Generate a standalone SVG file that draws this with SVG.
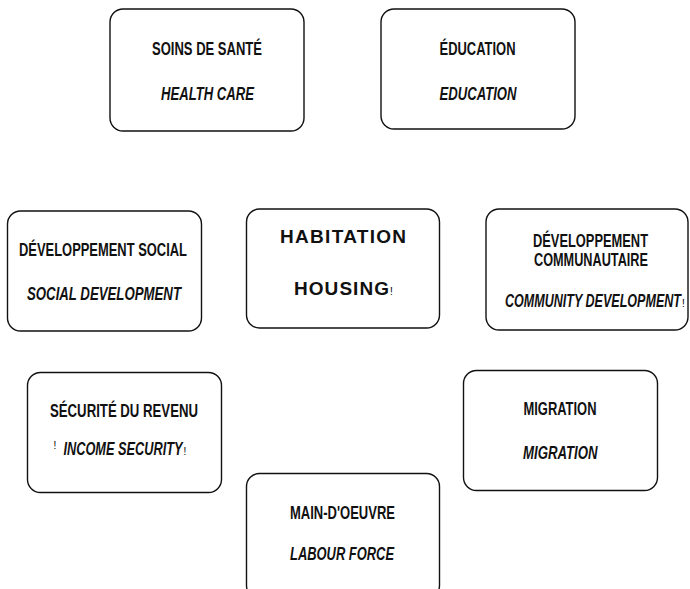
<svg xmlns="http://www.w3.org/2000/svg" width="690" height="589" viewBox="0 0 690 589">
  <style>
    .box { fill: #ffffff; stroke: #111111; stroke-width: 1.4; }
    .fr { font-family: "Liberation Sans", Arial, sans-serif; font-weight: bold; font-size: 17.5px; fill: #111111; }
    .en { font-family: "Liberation Sans", Arial, sans-serif; font-weight: bold; font-style: italic; font-size: 17.5px; fill: #111111; }
    .wide { font-family: "Liberation Sans", Arial, sans-serif; font-weight: bold; font-size: 19px; fill: #111111; }
    .mark { font-family: "Liberation Sans", Arial, sans-serif; font-size: 10px; fill: #000000; }
  </style>
  <rect width="690" height="589" fill="#ffffff"/>

  <g id="soins-de-sante">
    <rect class="box" x="110" y="9" width="194" height="122" rx="13"/>
    <text class="fr" x="152" y="55" textLength="110" lengthAdjust="spacingAndGlyphs">SOINS DE SANTÉ</text>
    <text class="en" x="161" y="100" textLength="93" lengthAdjust="spacingAndGlyphs">HEALTH CARE</text>
  </g>

  <g id="education">
    <rect class="box" x="381" y="9" width="194" height="120" rx="13"/>
    <text class="fr" x="439.5" y="55" textLength="76" lengthAdjust="spacingAndGlyphs">ÉDUCATION</text>
    <text class="en" x="439.5" y="100" textLength="77" lengthAdjust="spacingAndGlyphs">EDUCATION</text>
  </g>

  <g id="developpement-social">
    <rect class="box" x="7.5" y="211" width="194" height="120" rx="13"/>
    <text class="fr" x="19" y="255.5" textLength="168" lengthAdjust="spacingAndGlyphs">DÉVELOPPEMENT SOCIAL</text>
    <text class="en" x="27" y="300" textLength="154" lengthAdjust="spacingAndGlyphs">SOCIAL DEVELOPMENT</text>
  </g>

  <g id="habitation">
    <rect class="box" x="246.5" y="209" width="193" height="119" rx="13"/>
    <text class="wide" x="280" y="242.5" textLength="126" lengthAdjust="spacing">HABITATION</text>
    <text class="wide" x="294" y="295" textLength="95" lengthAdjust="spacing">HOUSING</text>
    <text class="mark" x="390" y="295" font-size="9">!</text>
  </g>

  <g id="developpement-communautaire">
    <rect class="box" x="486" y="209" width="202" height="121" rx="13"/>
    <text class="fr" x="533" y="246.5" textLength="115" lengthAdjust="spacingAndGlyphs">DÉVELOPPEMENT</text>
    <text class="fr" x="534" y="265.5" textLength="114" lengthAdjust="spacingAndGlyphs">COMMUNAUTAIRE</text>
    <text class="en" x="505" y="306.5" textLength="176" lengthAdjust="spacingAndGlyphs">COMMUNITY DEVELOPMENT</text>
    <text class="mark" x="682" y="306.5" font-size="9">!</text>
  </g>

  <g id="securite-du-revenu">
    <rect class="box" x="27.5" y="372.5" width="194" height="120" rx="13"/>
    <text class="fr" x="50" y="417" textLength="148" lengthAdjust="spacingAndGlyphs">SÉCURITÉ DU REVENU</text>
    <text class="mark" x="53.5" y="448.5">!</text>
    <text class="en" x="63.5" y="455" textLength="119" lengthAdjust="spacingAndGlyphs">INCOME SECURITY</text>
    <text class="mark" x="183.5" y="455" font-size="9">!</text>
  </g>

  <g id="migration">
    <rect class="box" x="463.5" y="370.5" width="194" height="120" rx="13"/>
    <text class="fr" x="523.5" y="415" textLength="73" lengthAdjust="spacingAndGlyphs">MIGRATION</text>
    <text class="en" x="523" y="459" textLength="74.5" lengthAdjust="spacingAndGlyphs">MIGRATION</text>
  </g>

  <g id="main-d-oeuvre">
    <rect class="box" x="246.5" y="473.5" width="193" height="125" rx="13"/>
    <text class="fr" x="290" y="519" textLength="105" lengthAdjust="spacingAndGlyphs">MAIN-D'OEUVRE</text>
    <text class="en" x="290" y="560" textLength="104" lengthAdjust="spacingAndGlyphs">LABOUR FORCE</text>
  </g>

  <!-- the sectors are drawn as free-standing boxes; no connecting lines -->
  <g id="connectors"/>
</svg>
